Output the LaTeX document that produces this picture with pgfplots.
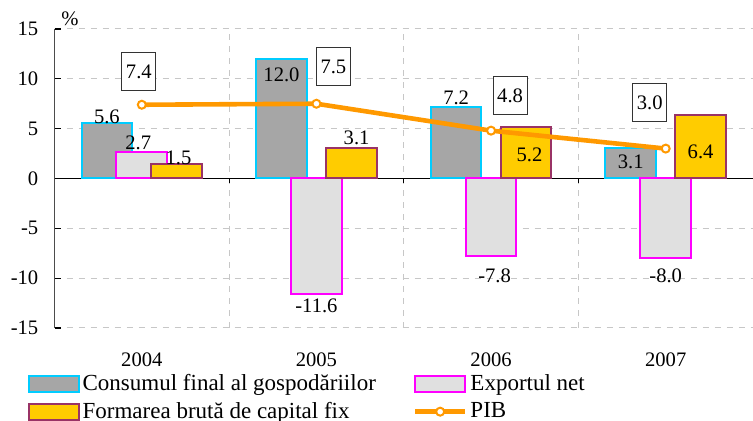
\documentclass[border=0pt]{standalone}
\usepackage{fontspec}
\setmainfont{Liberation Serif}
\usepackage{pgfplots}
\pgfplotsset{compat=1.18}

\definecolor{consc}{HTML}{A6A6A6}
\definecolor{consb}{HTML}{00CCFF}
\definecolor{expc}{HTML}{E0E0E0}
\definecolor{expb}{HTML}{FF00FF}
\definecolor{formc}{HTML}{FFCC00}
\definecolor{formb}{HTML}{993366}
\definecolor{pibc}{HTML}{FF9900}

\pgfplotsset{
 barleg/.style={legend image code/.code={\draw[##1] (0pt,-4pt) rectangle (25pt,4pt);}},
 lineleg/.style={legend image code/.code={\draw[##1,mark=none] (0pt,0pt) -- (25pt,0pt);
  \draw[##1,only marks] plot coordinates {(12.5pt,0pt)};}},
}

\begin{document}
\fontsize{10.3}{12}\selectfont
\begin{tikzpicture}
\begin{axis}[
 scale only axis,
 width=349.25pt,height=149.5pt,
 xmin=-0.5,xmax=3.5,ymin=-15,ymax=15,
 axis x line*=bottom, axis y line*=left,
 x axis line style={draw=none},
 y axis line style={black!70,line width=0.6pt},
 xtick={0,1,2,3},
 xticklabels={2004,2005,2006,2007},
 extra x ticks={0.5,1.5,2.5},
 extra x tick labels={},
 extra x tick style={grid=major,major tick length=0pt},
 major x tick style={draw=none},
 xticklabel style={yshift=-9pt},
 ytick={-15,-10,...,15},
 ymajorgrids,
 tick align=inside,
 major tick length=3pt,
 major y tick style={black,line width=0.6pt},
 yticklabel style={xshift=-4.5pt},
 grid style={dashed,black!22,line width=0.5pt},
 /pgf/number format/assume math mode=true,
 tick label style={font=\fontsize{10.3}{12}\selectfont},
 legend columns=2,
 legend cell align=left,
 legend style={at={(-0.039,-0.145)},anchor=north west,draw=none,fill=none,
  font=\fontsize{11.5}{13}\selectfont,
  /tikz/every even column/.append style={column sep=17pt},
  row sep=1pt,inner sep=0pt,
  nodes={inner sep=1.5pt}},
 clip=false
]
% zero line with small ticks at the category borders
\draw[black,line width=0.6pt] (axis cs:-0.5,0) -- (axis cs:3.5,0);
\draw[black,line width=0.6pt] (axis cs:0.5,0) -- ([yshift=-2.5pt]axis cs:0.5,0);
\draw[black,line width=0.6pt] (axis cs:1.5,0) -- ([yshift=-2.5pt]axis cs:1.5,0);
\draw[black,line width=0.6pt] (axis cs:2.5,0) -- ([yshift=-2.5pt]axis cs:2.5,0);

\addplot[ybar,bar width=0.29,bar shift=-0.2,fill=consc,draw=consb,line width=1pt,barleg]
 coordinates {(0,5.6) (1,12.0) (2,7.2) (3,3.1)};
\addlegendentry{Consumul final al gospodăriilor}
\addplot[ybar,bar width=0.29,bar shift=0,fill=expc,draw=expb,line width=1pt,barleg]
 coordinates {(0,2.7) (1,-11.6) (2,-7.8) (3,-8.0)};
\addlegendentry{Exportul net}
\addplot[ybar,bar width=0.29,bar shift=0.2,fill=formc,draw=formb,line width=1pt,barleg]
 coordinates {(0,1.5) (1,3.1) (2,5.2) (3,6.4)};
\addlegendentry{Formarea brută de capital fix}
\addplot[pibc,line width=2.3pt,mark=*,mark size=2pt,
 mark options={fill=white,draw=pibc,line width=1pt},lineleg]
 coordinates {(0,7.4) (1,7.5) (2,4.8) (3,3.0)};
\addlegendentry{PIB}

% bar labels
\node at (axis cs:-0.2,6.2) {5.6};
\node at (axis cs:0.8,10.4) {12.0};
\node at (axis cs:1.8,8.1) {7.2};
\node at (axis cs:2.8,1.7) {3.1};
\node at (axis cs:-0.02,3.6) {2.7};
\node at (axis cs:1.0,-12.8) {-11.6};
\node at (axis cs:2.02,-9.8) {-7.8};
\node at (axis cs:3.0,-9.8) {-8.0};
\node at (axis cs:0.21,2.1) {1.5};
\node at (axis cs:1.23,4.1) {3.1};
\node at (axis cs:2.22,2.4) {5.2};
\node at (axis cs:3.2,2.7) {6.4};
% PIB labels
\tikzset{pibl/.style={draw=black!80,fill=white,line width=0.5pt,minimum width=17pt,minimum height=19pt,inner sep=1pt}}
\node[pibl] at (axis cs:-0.017,10.7) {7.4};
\node[pibl] at (axis cs:1.097,11.2) {7.5};
\node[pibl] at (axis cs:2.109,8.3) {4.8};
\node[pibl] at (axis cs:2.909,7.6) {3.0};
% unit
\node[anchor=south] at ([yshift=-2pt]rel axis cs:0.022,1) {\%};
\end{axis}
\pgfresetboundingbox
\path (-27.25pt,-46.5pt) rectangle (349.25pt,164pt);
\end{tikzpicture}
\end{document}
